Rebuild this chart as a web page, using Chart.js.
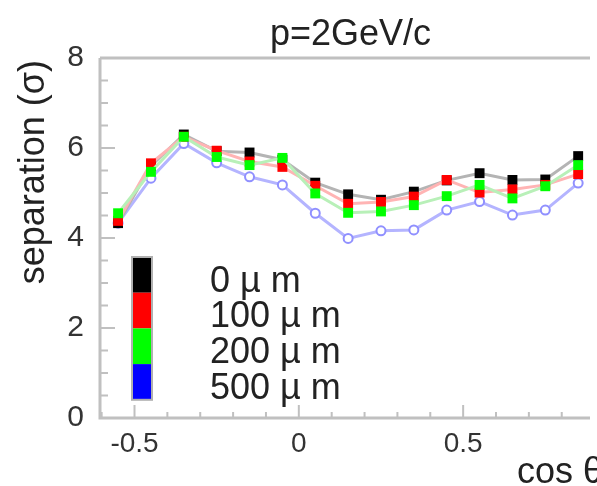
<!DOCTYPE html>
<html>
<head>
<meta charset="utf-8">
<script src="https://cdn.jsdelivr.net/npm/chart.js@4.4.1/dist/chart.umd.min.js"></script>
<style>
  html, body { margin: 0; padding: 0; background: #ffffff; overflow: hidden; }
  #wrap { width: 597px; height: 486px; }
</style>
</head>
<body>
<div id="wrap"><canvas id="c" width="597" height="486"></canvas></div>
<script>
// cos(theta) bin centres
const cosTheta = [-0.55, -0.45, -0.35, -0.25, -0.15, -0.05, 0.05, 0.15, 0.25, 0.35, 0.45, 0.55, 0.65, 0.75, 0.85];

// separation power (sigma) for each misalignment
const sep0um   = [4.33, 5.60, 6.30, 5.93, 5.90, 5.74, 5.23, 4.97, 4.85, 5.03, 5.28, 5.44, 5.29, 5.30, 5.82];
const sep100um = [4.38, 5.66, 6.25, 5.94, 5.70, 5.58, 5.16, 4.76, 4.80, 4.92, 5.29, 5.01, 5.08, 5.18, 5.42];
const sep200um = [4.55, 5.47, 6.25, 5.80, 5.62, 5.78, 4.99, 4.56, 4.59, 4.73, 4.93, 5.18, 4.88, 5.15, 5.62];
const sep500um = [4.33, 5.33, 6.10, 5.67, 5.36, 5.18, 4.55, 3.99, 4.16, 4.18, 4.62, 4.81, 4.51, 4.62, 5.22];

const seriesNames = ['0 \u00b5 m', '100 \u00b5 m', '200 \u00b5 m', '500 \u00b5 m'];
const xTickValues = [-0.5, 0, 0.5];
const yTickValues = [0, 2, 4, 6, 8];

const titleText = 'p=2GeV/c';
const yTitleText = 'separation (\u03c3)';
const xTitleText = 'cos \u03b8';

const FONT = '"Liberation Sans", Arial, Helvetica, sans-serif';
const AXIS_GREY = '#c0c0c0';

function pts(vals) { return cosTheta.map((x, i) => ({ x: x, y: vals[i] })); }

const squareSeries = (vals, marker, line, order) => ({
  data: pts(vals),
  borderColor: line,
  borderWidth: 3,
  pointStyle: 'rect',
  pointRadius: 7,
  pointBorderWidth: 0,
  pointBackgroundColor: marker,
  pointBorderColor: marker,
  tension: 0,
  order: order
});

const datasets = [
  squareSeries(sep0um,   '#000000', '#b4b4b4', 3),
  squareSeries(sep100um, '#ff0000', '#ffb4b4', 2),
  squareSeries(sep200um, '#00ff00', '#b8f0b8', 1),
  {
    data: pts(sep500um),
    borderColor: '#b4b4ff',
    borderWidth: 3,
    pointStyle: 'circle',
    pointRadius: 4.5,
    pointBorderWidth: 2,
    pointBackgroundColor: '#ffffff',
    pointBorderColor: '#9090ff',
    tension: 0,
    order: 4
  }
];
datasets.forEach((d, i) => d.label = seriesNames[i]);

const legendColours = ['#000000', '#ff0000', '#00ff00', '#0000ff'];

// frame, inward ticks, titles and the stacked colour-box legend
const decor = {
  id: 'decor',
  beforeDatasetsDraw(chart) {
    const { ctx, chartArea: a, scales: { x, y } } = chart;
    ctx.save();
    ctx.strokeStyle = AXIS_GREY;
    ctx.lineWidth = 3;
    ctx.beginPath();
    ctx.moveTo(a.left, a.top); ctx.lineTo(a.right, a.top);
    ctx.moveTo(a.left, a.top); ctx.lineTo(a.left, a.bottom);
    ctx.lineTo(a.right, a.bottom);
    ctx.stroke();
    ctx.lineWidth = 2;
    ctx.beginPath();
    for (let k = 0; k <= 16; k++) {
      const v = k * 0.5;
      const py = y.getPixelForValue(v);
      const len = (k % 4 === 0) ? 15 : 8;
      ctx.moveTo(a.left, py); ctx.lineTo(a.left + len, py);
    }
    for (let k = -6; k <= 9; k++) {
      const v = k / 10;
      const px = x.getPixelForValue(v);
      if (px < a.left || px > a.right) continue;
      const len = (k % 5 === 0) ? 13 : 6;
      ctx.moveTo(px, a.bottom); ctx.lineTo(px, a.bottom - len);
    }
    ctx.stroke();
    ctx.restore();
  },
  afterDraw(chart) {
    const { ctx } = chart;
    ctx.save();
    ctx.fillStyle = '#222222';
    ctx.textBaseline = 'alphabetic';

    // title
    ctx.font = '36px ' + FONT;
    ctx.textAlign = 'left';
    ctx.fillText(titleText, 270, 45);

    // x axis title
    ctx.fillText(xTitleText, 517, 483);

    // y axis title
    ctx.save();
    ctx.translate(44, 60);
    ctx.rotate(-Math.PI / 2);
    ctx.textAlign = 'right';
    ctx.fillText(yTitleText, 0, 0);
    ctx.restore();

    // legend
    const boxX = 132, boxW = 20, boxTop = 257, boxH = 35.7;
    for (let i = 0; i < seriesNames.length; i++) {
      const top = boxTop + i * boxH;
      ctx.fillStyle = legendColours[i];
      ctx.fillRect(boxX, top, boxW, boxH);
    }
    ctx.strokeStyle = '#b0b0b0';
    ctx.lineWidth = 2;
    ctx.strokeRect(boxX, boxTop, boxW, boxH * seriesNames.length);
    ctx.fillStyle = '#222222';
    ctx.font = '36px ' + FONT;
    ctx.textAlign = 'left';
    for (let i = 0; i < seriesNames.length; i++) {
      ctx.fillText(seriesNames[i], 210, boxTop + (i + 1) * boxH - 1);
    }
    ctx.restore();
  }
};

new Chart(document.getElementById('c'), {
  type: 'line',
  data: { datasets: datasets },
  options: {
    responsive: false,
    animation: false,
    layout: { padding: { top: 58, left: 0, right: 0, bottom: 0 } },
    plugins: { legend: { display: false }, title: { display: false }, tooltip: { enabled: false } },
    scales: {
      x: {
        type: 'linear',
        min: -0.605,
        max: 0.886,
        grid: { display: false },
        border: { display: false },
        afterFit(s) { s.height = 68; },
        afterBuildTicks(s) { s.ticks = xTickValues.map(v => ({ value: v })); },
        ticks: {
          color: '#333333',
          padding: 1,
          maxRotation: 0,
          autoSkip: false,
          font: { family: FONT, size: 28 },
          callback: v => String(v)
        }
      },
      y: {
        type: 'linear',
        min: 0,
        max: 8,
        grid: { display: false },
        border: { display: false },
        afterFit(s) { s.width = 100; },
        afterBuildTicks(s) { s.ticks = yTickValues.map(v => ({ value: v })); },
        ticks: {
          color: '#333333',
          padding: 8,
          autoSkip: false,
          font: { family: FONT, size: 30 },
          callback: v => String(v)
        }
      }
    }
  },
  plugins: [decor]
});
</script>
</body>
</html>
